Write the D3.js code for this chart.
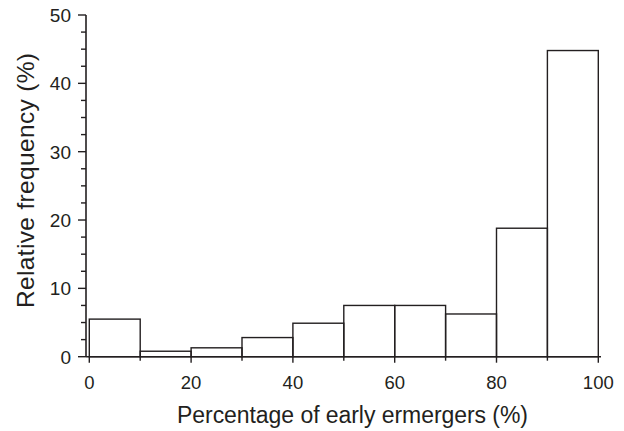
<!DOCTYPE html>
<html><head><meta charset="utf-8">
<script src="https://cdn.jsdelivr.net/npm/d3@7"></script>
<style>body{margin:0;background:#fff}svg{display:block}text{font-family:"Liberation Sans",Arial,sans-serif;fill:#231f20}</style>
</head><body>
<script>
const binStarts = [0,10,20,30,40,50,60,70,80,90];
const binWidth = 10;
const frequencies = [5.5,0.8,1.3,2.8,4.9,7.5,7.5,6.25,18.8,44.8];
const xTicks = [0,20,40,60,80,100];
const yTicks = [0,10,20,30,40,50];

const W=624,H=431;
const svg=d3.select("body").append("svg").attr("width",W).attr("height",H);
const x=d3.scaleLinear().domain([0,100]).range([89.3,598.3]);
const y=d3.scaleLinear().domain([0,50]).range([356.7,15]);
const ink="#231f20";

// bars
svg.selectAll("rect.bar").data(binStarts).enter().append("rect")
  .attr("x",d=>x(d)).attr("width",(d)=>x(d+binWidth)-x(d))
  .attr("y",(d,i)=>y(frequencies[i])).attr("height",(d,i)=>y(0)-y(frequencies[i]))
  .attr("fill","none").attr("stroke",ink).attr("stroke-width",1.4);

// y axis
const yMinor=d3.range(0,50.01,2.5);
const ya=svg.append("g").attr("transform","translate(86,0)");
ya.append("line").attr("y1",y(50)).attr("y2",y(0)).attr("stroke",ink).attr("stroke-width",1.6);
ya.selectAll("line.t").data(yMinor).enter().append("line")
  .attr("x1",d=>d%10===0?-8:-5).attr("x2",0).attr("y1",d=>y(d)).attr("y2",d=>y(d))
  .attr("stroke",ink).attr("stroke-width",1.4);
ya.selectAll("text").data(yTicks).enter().append("text")
  .attr("x",-15).attr("y",d=>y(d)).attr("dy","0.36em").attr("text-anchor","end")
  .attr("font-size",19).text(d=>d);

// x axis
const xa=svg.append("g").attr("transform","translate(0,356.7)");
xa.append("line").attr("x1",86).attr("x2",601).attr("stroke",ink).attr("stroke-width",1.6);
const xMinor=d3.range(0,100.01,10);
xa.selectAll("line.t").data(xMinor).enter().append("line")
  .attr("x1",d=>x(d)).attr("x2",d=>x(d)).attr("y1",0).attr("y2",d=>d%20===0?6:4)
  .attr("stroke",ink).attr("stroke-width",1.4);
xa.selectAll("text").data(xTicks).enter().append("text")
  .attr("x",d=>x(d)).attr("y",32).attr("text-anchor","middle")
  .attr("font-size",18.5).text(d=>d);

svg.append("text").attr("x",352.5).attr("y",423).attr("text-anchor","middle")
  .attr("font-size",23).attr("textLength",351).attr("lengthAdjust","spacing")
  .text("Percentage of early ermergers (%)");
svg.append("text").attr("transform","translate(33.5,180.5) rotate(-90)")
  .attr("text-anchor","middle").attr("font-size",24.5).attr("textLength",255).attr("lengthAdjust","spacing")
  .text("Relative frequency (%)");
</script>
</body></html>
